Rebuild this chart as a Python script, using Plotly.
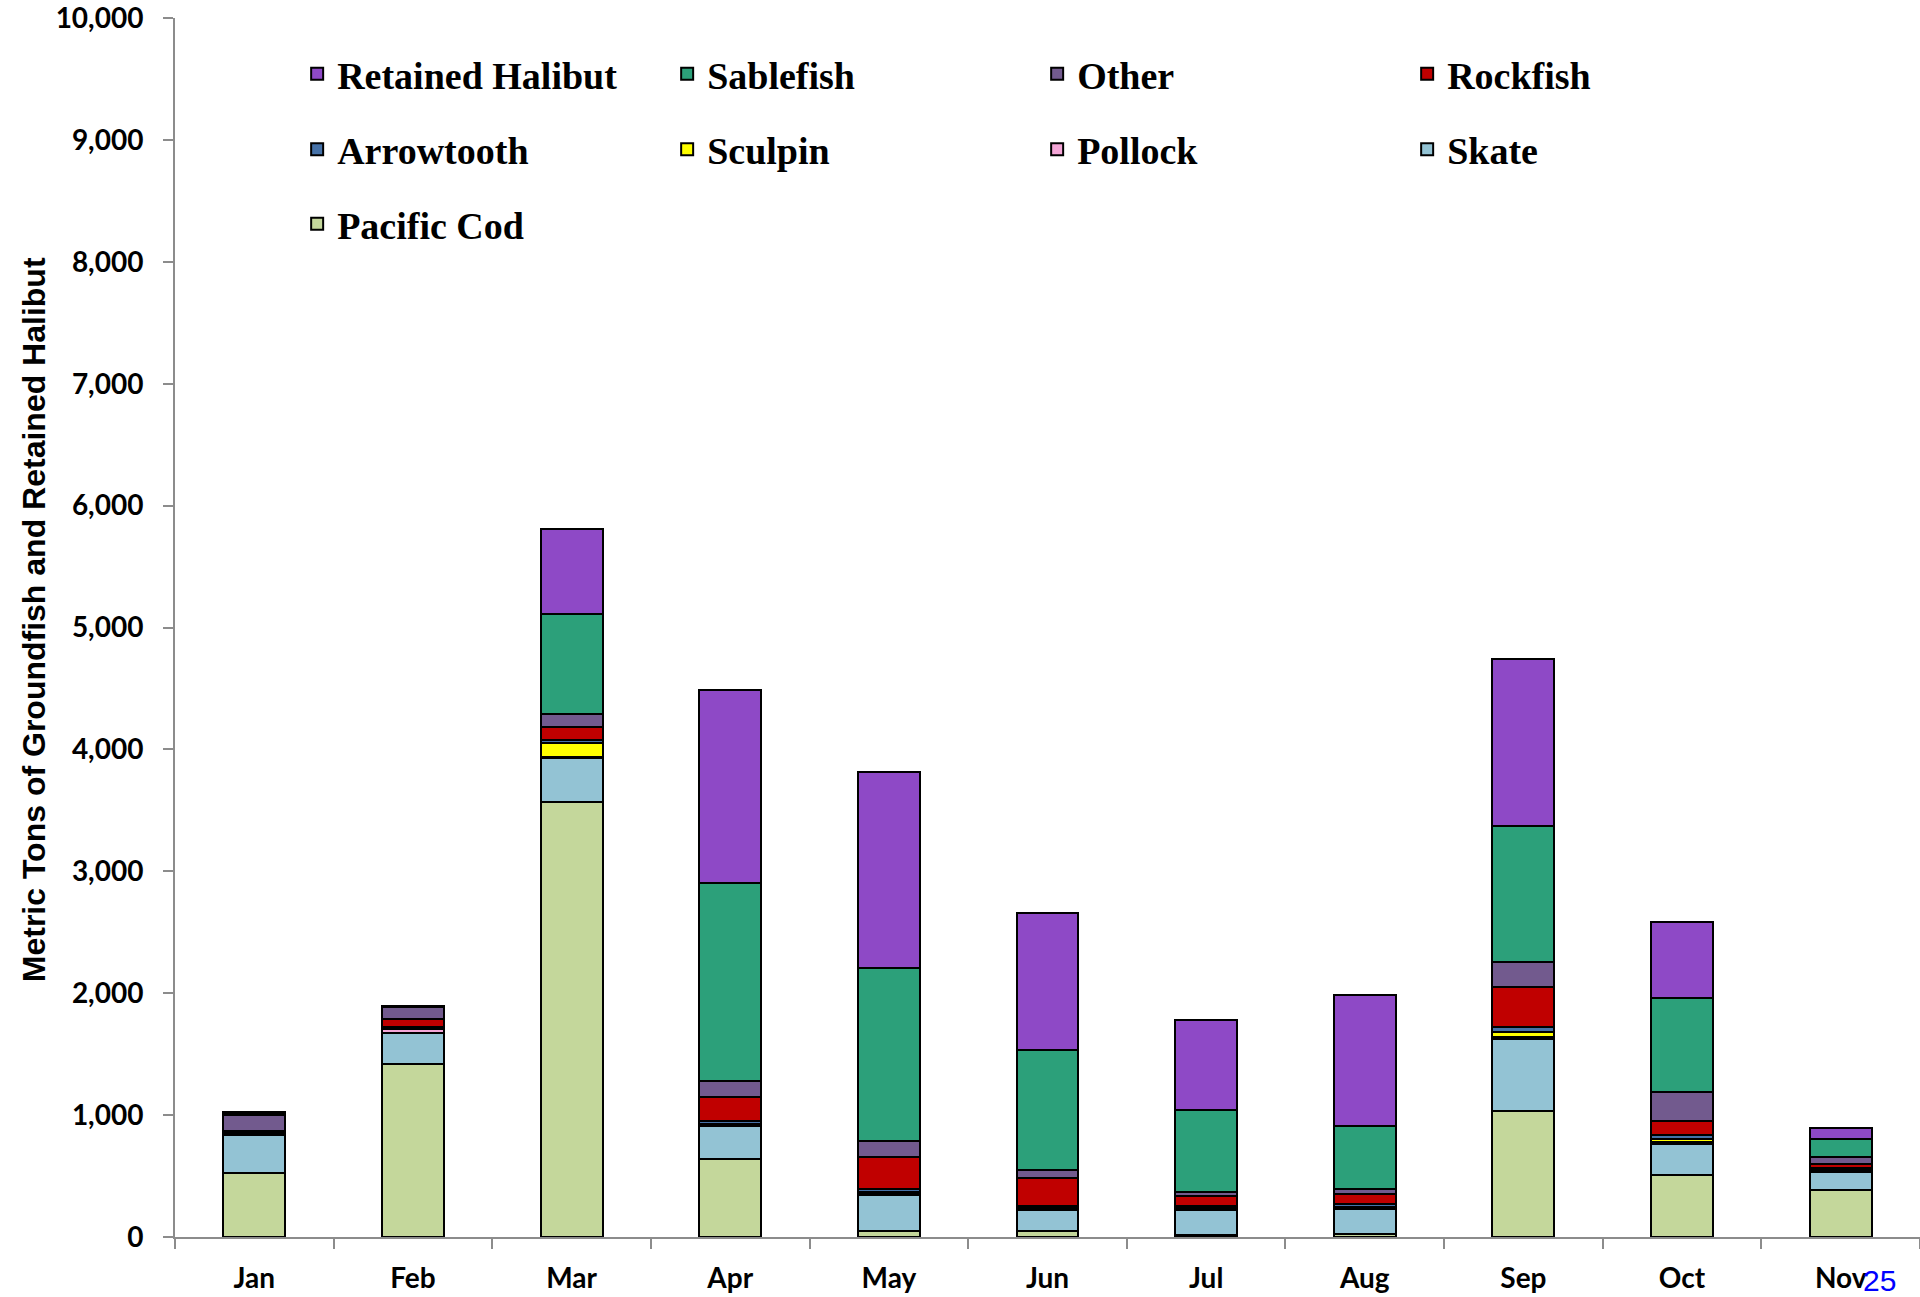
import plotly.graph_objects as go

months = ["Jan", "Feb", "Mar", "Apr", "May", "Jun", "Jul", "Aug", "Sep", "Oct", "Nov"]

# stacked from bottom to top
pacific_cod = [524, 1423, 3569, 636, 49, 49, 16, 22, 1036, 507, 389]
skate       = [309, 247, 359, 274, 296, 170, 206, 205, 586, 260, 145]
pollock     = [5, 35, 13, 5, 5, 5, 5, 5, 22, 10, 10]
sculpin     = [5, 10, 110, 15, 20, 15, 10, 18, 36, 31, 10]
arrowtooth  = [20, 10, 27, 20, 25, 15, 18, 18, 46, 25, 15]
rockfish    = [10, 60, 104, 195, 263, 234, 82, 88, 323, 120, 31]
other       = [130, 98, 109, 137, 131, 60, 36, 36, 203, 233, 58]
sablefish   = [10, 5, 819, 1620, 1420, 988, 667, 520, 1121, 778, 150]
halibut     = [9, 4, 700, 1586, 1606, 1125, 737, 1076, 1366, 622, 85]

y_title = "Metric Tons of Groundfish and Retained Halibut"
page_number = "25"

series = [
    ("Pacific Cod", pacific_cod, "#C4D79B", "legend3"),
    ("Skate", skate, "#93C3D4", "legend2"),
    ("Pollock", pollock, "#F4A6D7", "legend2"),
    ("Sculpin", sculpin, "#FFFF00", "legend2"),
    ("Arrowtooth", arrowtooth, "#4672A8", "legend2"),
    ("Rockfish", rockfish, "#C00000", "legend"),
    ("Other", other, "#725A8E", "legend"),
    ("Sablefish", sablefish, "#2CA07A", "legend"),
    ("Retained Halibut", halibut, "#8E49C6", "legend"),
]

fig = go.Figure()
for name, vals, color, lg in series:
    fig.add_trace(go.Bar(
        x=months, y=vals, name=name, legend=lg,
        marker=dict(color=color, line=dict(color="black", width=2)),
    ))

legend_font = dict(family="Liberation Serif", size=38, color="black", weight="bold")

def leg(y):
    return dict(orientation="h", x=0.07, xanchor="left", y=y, yanchor="middle",
                traceorder="reversed", entrywidth=325, entrywidthmode="pixels",
                font=legend_font, bgcolor="rgba(0,0,0,0)")

axis_color = "#8C8C8C"
tick_font = dict(family="Lato", size=28, color="black", weight="bold")

fig.update_layout(
    width=1920, height=1297,
    margin=dict(l=175, r=0, t=18, b=60, autoexpand=False),
    plot_bgcolor="white", paper_bgcolor="white",
    barmode="stack", bargap=0.61,
    legend=leg(0.954), legend2=leg(0.892), legend3=leg(0.831),
    xaxis=dict(
        automargin=False,
        showgrid=False, showline=True, linecolor=axis_color, linewidth=2,
        ticks="outside", tickson="boundaries", ticklen=10, tickcolor=axis_color, tickwidth=2,
        tickfont=tick_font, ticklabelstandoff=15,
    ),
    yaxis=dict(
        automargin=False,
        range=[0, 10000], dtick=1000, tickformat=",d",
        showgrid=False, zeroline=False, showline=True, linecolor=axis_color, linewidth=2,
        ticks="outside", ticklen=10, tickcolor=axis_color, tickwidth=2,
        tickfont=tick_font, ticklabelstandoff=14, ticklabeloverflow="allow",
    ),
    annotations=[
        dict(text=y_title, x=-0.0808, y=0.506, xref="paper", yref="paper",
             xanchor="center", yanchor="middle", textangle=-90, showarrow=False,
             font=dict(family="Liberation Sans", size=32, color="black", weight="bold")),
        dict(text=page_number, x=0.977, y=-0.036, xref="paper", yref="paper",
             xanchor="center", yanchor="middle", showarrow=False,
             font=dict(family="Liberation Sans", size=30, color="#0000FF")),
    ],
)

fig.write_html("out.html", config={"displayModeBar": False},
               post_script="document.body.style.margin='0px';")
